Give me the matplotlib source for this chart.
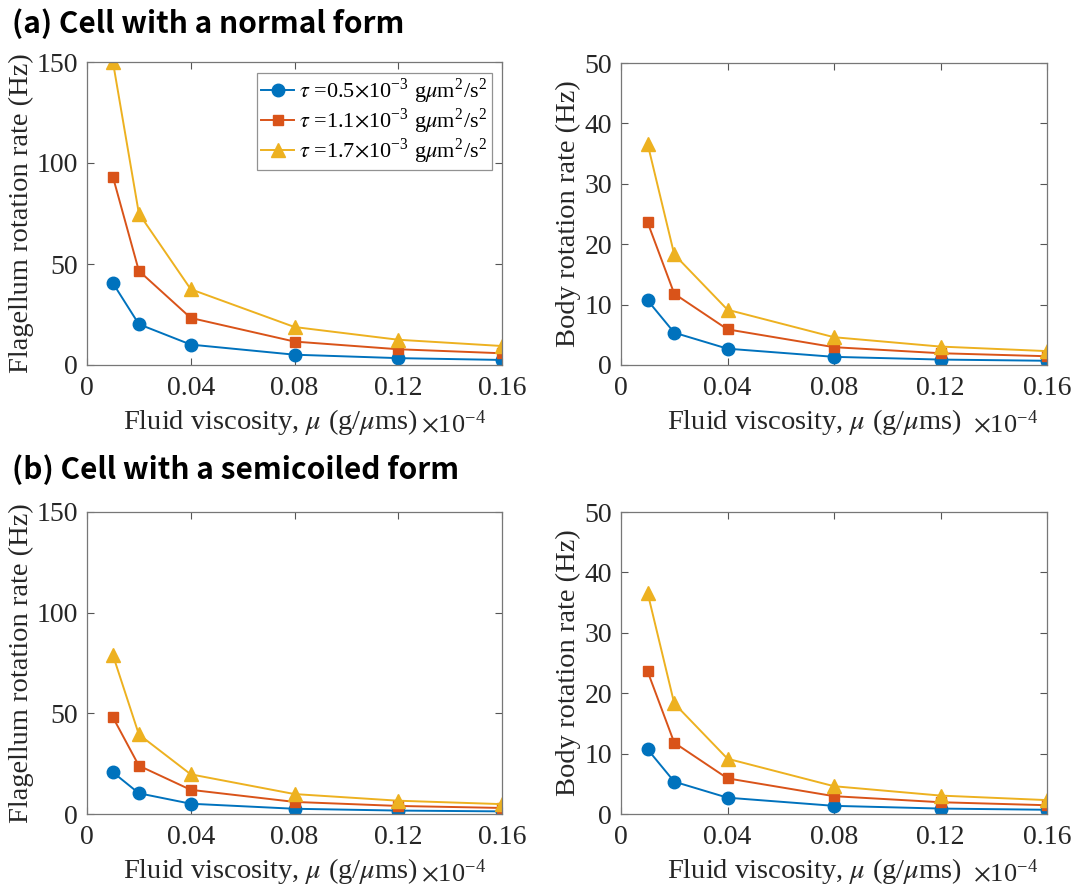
import numpy as np
import matplotlib.pyplot as plt

plt.rcParams['font.family'] = ['Liberation Serif', 'DejaVu Serif']
plt.rcParams['mathtext.fontset'] = 'stix'

# viscosity values (x 1e-4 g/um s)
mu = [0.01, 0.02, 0.04, 0.08, 0.12, 0.16]

# normal form
flag_a = [
    [40.5, 20.2, 10.1, 5.1, 3.4, 2.5],
    [93.1, 46.6, 23.3, 11.6, 7.8, 5.8],
    [150.0, 75.0, 37.5, 18.8, 12.5, 9.4],
]
body_a = [
    [10.7, 5.35, 2.7, 1.35, 0.9, 0.7],
    [23.6, 11.8, 5.9, 2.95, 1.95, 1.45],
    [36.6, 18.3, 9.15, 4.6, 3.05, 2.3],
]
# semicoiled form
flag_b = [
    [20.7, 10.3, 5.1, 2.6, 1.7, 1.3],
    [48.0, 24.0, 12.0, 6.0, 4.0, 3.0],
    [78.9, 39.5, 19.7, 9.9, 6.6, 4.9],
]
body_b = [
    [10.7, 5.35, 2.7, 1.35, 0.9, 0.7],
    [23.6, 11.8, 5.9, 2.95, 1.95, 1.45],
    [36.6, 18.3, 9.15, 4.6, 3.05, 2.3],
]

tau = ['0.5', '1.1', '1.7']
colors = ['#0072BD', '#D95319', '#EDB120']
markers = ['o', 's', '^']
msizes = [9, 6.5, 10]

W, H = 1073, 889
fig = plt.figure(figsize=(W / 100, H / 100), dpi=100)

def box(l, t, r, b):
    return [l / W, 1 - b / H, (r - l) / W, (b - t) / H]

# rect, data, ymax, ystep, ylabel, ylabel x, xlabel x, exponent x
panels = [
    (box(87, 62, 502, 365), flag_a, 150, 50, 'Flagellum rotation rate (Hz)', -0.159, 0.443, 0.805),
    (box(621, 63, 1047, 365), body_a, 50, 10, 'Body rotation rate (Hz)', -0.124, 0.455, 0.826),
    (box(87, 512, 502, 814), flag_b, 150, 50, 'Flagellum rotation rate (Hz)', -0.159, 0.443, 0.805),
    (box(621, 512, 1047, 814), body_b, 50, 10, 'Body rotation rate (Hz)', -0.124, 0.455, 0.826),
]

for i, (rect, data, ymax, ystep, ylab, ylx, xlx, xexp) in enumerate(panels):
    ax = fig.add_axes(rect)
    for k in range(3):
        lab = r'$\tau$ =' + tau[k] + r'$\times$10$^{\mathregular{-3}}$ g$\mu$m$^{\mathregular{2}}$/s$^{\mathregular{2}}$'
        ax.plot(mu, data[k], color=colors[k], marker=markers[k], ms=msizes[k],
                lw=1.4, mec=colors[k], label=lab)
    ax.set_xlim(0, 0.16)
    ax.set_ylim(0, ymax)
    ax.set_xticks([0, 0.04, 0.08, 0.12, 0.16])
    ax.set_xticklabels(['0', '0.04', '0.08', '0.12', '0.16'])
    ax.set_yticks(np.arange(0, ymax + 1, ystep))
    ax.tick_params(direction='in', top=True, right=True, length=5, width=0.8,
                   color='#555555', labelsize=20, labelcolor='#262626')
    ax.tick_params(axis='x', pad=8)
    ax.tick_params(axis='y', pad=6.5)
    for s in ax.spines.values():
        s.set_color('#777777')
        s.set_linewidth(0.9)
    ax.set_xlabel(r'Fluid viscosity, $\mu$ (g/$\mu$ms)', fontsize=20.5, color='#262626')
    ax.xaxis.label.set_va('baseline')
    ax.xaxis.set_label_coords(xlx, -0.212)
    ax.set_ylabel(ylab, fontsize=20.5, color='#262626')
    ax.yaxis.label.set_va('center')
    ax.yaxis.set_label_coords(ylx, 0.5)
    ax.text(xexp, -0.226, r'$\times$10$^{\mathregular{-4}}$', transform=ax.transAxes,
            fontsize=19, color='#262626', ha='left', va='baseline')
    if i == 0:
        leg = ax.legend(loc='upper right', bbox_to_anchor=(0.975, 0.965), fontsize=16,
                        handlelength=1.5, handletextpad=0.2, borderpad=0.2,
                        labelspacing=0.02, fancybox=False, borderaxespad=0)
        leg.get_frame().set_edgecolor('#777777')
        leg.get_frame().set_linewidth(0.9)

fig.text(12 / W, 1 - 24 / H, '(a) Cell with a normal form', fontsize=21.5, fontweight='bold',
         family=['Noto Sans CJK KR', 'DejaVu Sans'], va='center', ha='left')
fig.text(12 / W, 1 - 470 / H, '(b) Cell with a semicoiled form', fontsize=21.5, fontweight='bold',
         family=['Noto Sans CJK KR', 'DejaVu Sans'], va='center', ha='left')

fig.savefig('out.png', dpi=100)
